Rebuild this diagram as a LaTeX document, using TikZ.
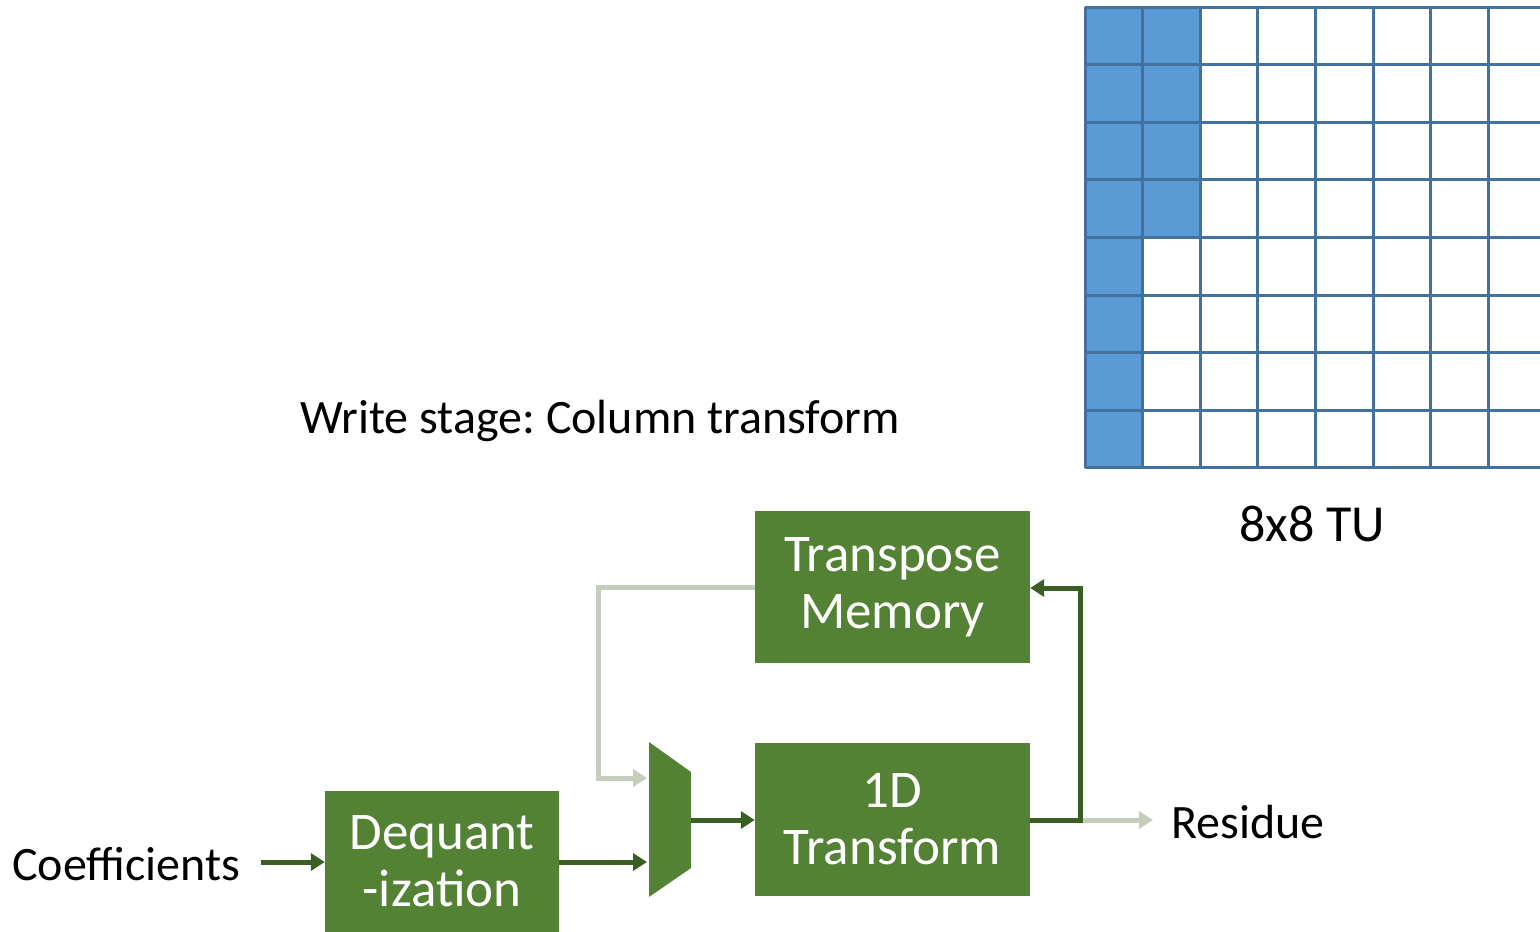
\documentclass[tikz,border=0pt]{standalone}
\usepackage{fontspec}
\setmainfont{Carlito}
\usetikzlibrary{arrows.meta}
\definecolor{boxgreen}{HTML}{548235}
\definecolor{darkarrow}{HTML}{3B5E23}
\definecolor{lightarrow}{HTML}{C5CDBD}
\definecolor{cellfill}{HTML}{5B9BD5}
\definecolor{cellline}{HTML}{41719C}
\tikzset{
  block/.style={fill=boxgreen, draw=none, text=white, align=center, font=\fontsize{53}{57}\selectfont, inner sep=0pt},
  darr/.style={draw=darkarrow, line width=5pt, -{Triangle[length=14pt,width=17pt]}},
  larr/.style={draw=lightarrow, line width=5pt, -{Triangle[length=14pt,width=17pt]}},
  lbl/.style={font=\fontsize{48}{52}\selectfont, inner sep=0pt},
}
\frenchspacing
\begin{document}
\begin{tikzpicture}[x=1pt,y=-1pt]
\useasboundingbox (0,0) rectangle (1540,932);
% grid
\begin{scope}
\clip (0,0) rectangle (1540,932);
\fill[cellfill] (1085,7) rectangle (1143,468);
\fill[cellfill] (1143,7) rectangle (1200.5,238);
\foreach \i in {0,...,8} {
  \draw[cellline, line width=3pt] (1085+57.6*\i,7) -- (1085+57.6*\i,468);
  \draw[cellline, line width=3pt] (1085,7+57.6*\i) -- (1546,7+57.6*\i);
}
\end{scope}
\node[lbl, font=\fontsize{52}{56}\selectfont] (tu) at (1312,524) {8x8 TU};
\node[lbl] (title) at (600,421) {Write stage: Column transform};
% blocks
\node[block, minimum width=275pt, minimum height=152pt] (tm) at (892.5,587) {Transpose\\Memory};
\node[block, minimum width=275pt, minimum height=153pt] (tr) at (892.5,819.5) {1D\\Transform};
\node[block, minimum width=234pt, minimum height=141pt] (dq) at (442,861.5) {Dequant\\-ization};
% mux
\path[fill=boxgreen] (649,742) -- (691,772) -- (691,868) -- (649,897) -- cycle;
\coordinate (muxin1) at (647,778);
\coordinate (muxin2) at (647,862);
\coordinate (muxout) at (691,820);
\coordinate (gl) at (598,587);
\coordinate (rb) at (1080,820);
\coordinate (rt) at (1080,588);
\coordinate (resend) at (1153,820);
\node[lbl, anchor=west] (coef) at (12,864) {Coefficients};
\node[lbl, anchor=west] (res) at (1171,822) {Residue};
% connectors
\draw[larr] (tm.west) -- (gl) |- (muxin1);
\draw[darr] (261,862) -- (dq.west |- 0,862);
\draw[darr] (dq.east |- 0,862) -- (muxin2);
\draw[darr] (muxout) -- (tr.west |- muxout);
\draw[larr] (rb) -- (resend);
\draw[darr] (tr.east |- rb) -- (rb) -- (rt) -- (tm.east |- rt);
\end{tikzpicture}
\end{document}
